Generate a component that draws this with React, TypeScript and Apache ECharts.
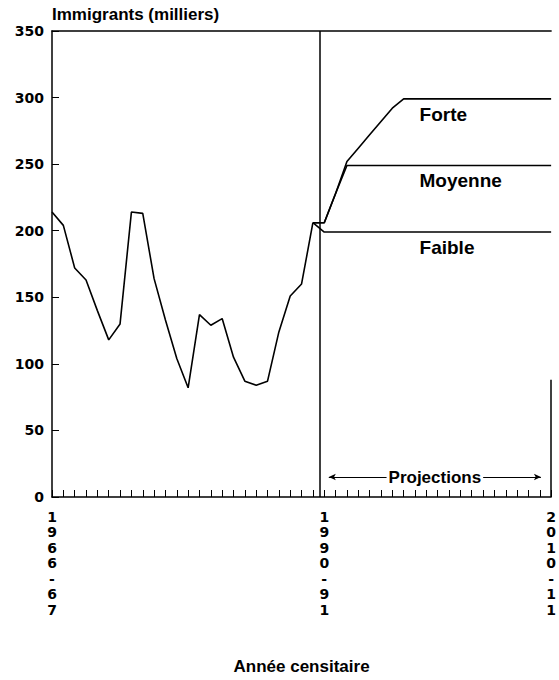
import React, { useEffect, useRef } from "react";
import * as echarts from "echarts";

// ---- data ----
const historicalStartYear = 1966; // 1966-67
const historical = [214, 204, 172, 163, 140, 118, 130, 214, 213, 164, 133, 104, 82, 137, 129, 134, 105, 87, 84, 87, 124, 151, 160, 206];

const projectionStartYear = 1989; // 1989-90 ... 2010-11
const faible = [206, 199, 199, 199, 199, 199, 199, 199, 199, 199, 199, 199, 199, 199, 199, 199, 199, 199, 199, 199, 199, 199];
const moyenne = [206, 206, 228, 249, 249, 249, 249, 249, 249, 249, 249, 249, 249, 249, 249, 249, 249, 249, 249, 249, 249, 249];
const forte = [206, 206, 228, 252, 262, 272, 282, 292, 299, 299, 299, 299, 299, 299, 299, 299, 299, 299, 299, 299, 299, 299];

const tickYears = [1966, 1990, 2010];
const tickLabels = ["1966-67", "1990-91", "2010-11"];

const xMin = 1966;
const xMax = 2010;
const yMin = 0;
const yMax = 350;
const yStep = 50;

const projectionDivider = 1989.6;
const projectionArrow = [1990.4, 2009.1];
const projectionArrowY = 15;
const scenarioLabelYear = 1998.4;

// ---- styles ----
const letterFont = "'Liberation Sans', Arial, Helvetica, sans-serif";
const numberFont = "'DejaVu Sans', sans-serif";
const black = "#000";

const toPairs = (start: number, values: number[]) => values.map((v, i) => [start + i, v]);

export default function App() {
  const ref = useRef<HTMLDivElement>(null);

  useEffect(() => {
    if (!ref.current) return;
    const chart = echarts.init(ref.current, undefined, { renderer: "svg" });

    const lineStyle = { color: black, width: 1.6 };
    const scenarioLabel = (name: string, value: number) => ({
      symbol: "circle",
      symbolSize: 0,
      data: [
        {
          coord: [scenarioLabelYear, value],
          label: {
            show: true,
            formatter: name,
            position: [0, 6],
            align: "left",
            verticalAlign: "top",
            fontFamily: letterFont,
            fontWeight: "bold",
            fontSize: 19,
            color: black,
          },
        },
      ],
    });

    chart.setOption({
      animation: false,
      backgroundColor: "#fff",
      title: {
        text: "Immigrants (milliers)",
        left: 52,
        top: 6,
        padding: 0,
        textStyle: { fontFamily: letterFont, fontWeight: "bold", fontSize: 17, color: black },
      },
      grid: { left: 52, right: 1, top: 31, bottom: 183, containLabel: false },
      xAxis: [
        {
          type: "value",
          min: xMin,
          max: xMax,
          interval: 1,
          position: "bottom",
          axisLine: { show: true, lineStyle: { color: black, width: 1.5 } },
          axisTick: { show: true, inside: true, length: 7, lineStyle: { color: black, width: 1 } },
          splitLine: { show: false },
          axisLabel: {
            showMinLabel: true,
            showMaxLabel: true,
            hideOverlap: false,
            formatter: (v: number) => {
              const i = tickYears.indexOf(Math.round(v));
              return i < 0 ? "" : tickLabels[i].split("").join("\n");
            },
            fontFamily: numberFont,
            fontWeight: "bold",
            fontSize: 14,
            lineHeight: 15.5,
            color: black,
            margin: 12,
          },
          name: "Année censitaire",
          nameLocation: "middle",
          nameGap: 161,
          nameTextStyle: { fontFamily: letterFont, fontWeight: "bold", fontSize: 17, color: black },
        },
        {
          type: "value",
          min: xMin,
          max: xMax,
          position: "top",
          axisLine: { show: true, lineStyle: { color: black, width: 1.5 } },
          axisTick: { show: false },
          axisLabel: { show: false },
          splitLine: { show: false },
        },
      ],
      yAxis: {
        type: "value",
        min: yMin,
        max: yMax,
        interval: yStep,
        axisLine: { show: true, lineStyle: { color: black, width: 1.5 } },
        axisTick: { show: true, inside: true, length: 7, lineStyle: { color: black, width: 1 } },
        splitLine: { show: false },
        axisLabel: {
          fontFamily: numberFont,
          fontWeight: "bold",
          fontSize: 14,
          color: black,
          margin: 8,
        },
      },
      series: [
        {
          name: "Historique",
          type: "line",
          data: toPairs(historicalStartYear, historical),
          symbol: "none",
          lineStyle,
          markLine: {
            silent: true,
            symbol: "none",
            label: { show: false },
            lineStyle: { color: black, width: 1.5, type: "solid" },
            data: [
              { xAxis: projectionDivider },
              [{ coord: [xMax, 0] }, { coord: [xMax, 88] }],
            ],
          },
        },
        {
          name: "Faible",
          type: "line",
          data: toPairs(projectionStartYear, faible),
          symbol: "none",
          lineStyle,
          markPoint: scenarioLabel("Faible", faible[faible.length - 1]),
          markLine: {
            silent: true,
            symbol: ["arrow", "arrow"],
            symbolSize: [5, 7],
            lineStyle: { color: black, width: 1, type: "solid" },
            label: {
              show: true,
              formatter: "Projections",
              position: "middle",
              distance: 0,
              verticalAlign: "middle",
              backgroundColor: "#fff",
              padding: [0, 2],
              fontFamily: letterFont,
              fontWeight: "bold",
              fontSize: 17,
              color: black,
            },
            data: [[{ coord: [projectionArrow[0], projectionArrowY] }, { coord: [projectionArrow[1], projectionArrowY] }]],
          },
        },
        {
          name: "Moyenne",
          type: "line",
          data: toPairs(projectionStartYear, moyenne),
          symbol: "none",
          lineStyle,
          markPoint: scenarioLabel("Moyenne", moyenne[moyenne.length - 1]),
        },
        {
          name: "Forte",
          type: "line",
          data: toPairs(projectionStartYear, forte),
          symbol: "none",
          lineStyle,
          markPoint: scenarioLabel("Forte", forte[forte.length - 1]),
        },
      ],
    });

    return () => chart.dispose();
  }, []);

  return (
    <div
      ref={ref}
      style={{ position: "absolute", left: 0, top: 0, width: 559, height: 680 }}
    />
  );
}
